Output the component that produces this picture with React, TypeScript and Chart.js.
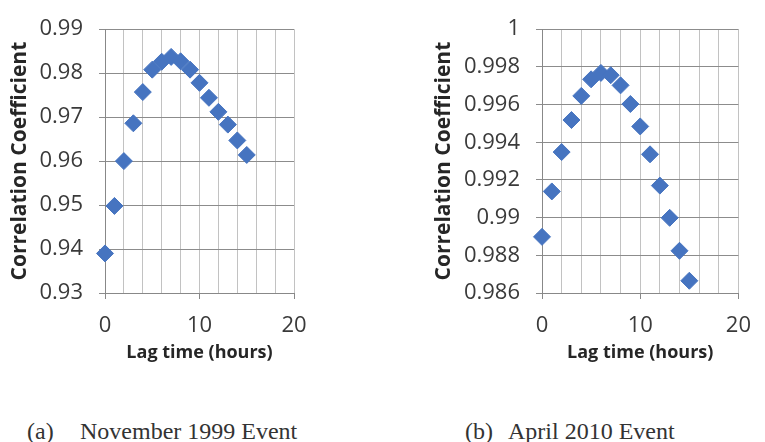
import React, { useEffect, useRef } from 'react';
import { Chart, registerables } from 'chart.js';

Chart.register(...registerables);

// ---- data ----
const lagHours = [0, 1, 2, 3, 4, 5, 6, 7, 8, 9, 10, 11, 12, 13, 14, 15];
const nov1999Corr = [0.939, 0.9498, 0.96, 0.9686, 0.9757, 0.9808, 0.9826, 0.9837, 0.9827, 0.9808, 0.9778, 0.9744, 0.9712, 0.9683, 0.9647, 0.9614];
const apr2010Corr = [0.98898, 0.99139, 0.99348, 0.99518, 0.99646, 0.99734, 0.99768, 0.99756, 0.99702, 0.99603, 0.99484, 0.99336, 0.9917, 0.98999, 0.98824, 0.98665];

const xRange = [0, 20];
const xStep = 2;
const xLabelEvery = 10;
const nov1999YRange = [0.93, 0.99];
const nov1999YStep = 0.01;
const apr2010YRange = [0.986, 1];
const apr2010YStep = 0.002;

const xTitle = 'Lag time (hours)';
const yTitle = 'Correlation Coefficient';
const captionA = ['(a)', 'November 1999 Event'];
const captionB = ['(b)', 'April 2010 Event'];

const MARKER = 'rgb(70,116,192)';
const TICK_COLOR = '#3a3a3a';
const TITLE_COLOR = '#262626';
const FONT = "'Open Sans', 'Noto Sans', sans-serif";

type PanelProps = {
  values: number[];
  yRange: number[];
  yStep: number;
  decimals: number;
  left: number;
  width: number;
  height: number;
  axisWidth: number;
  padTop: number;
  padRight: number;
  padBottom: number;
  yTitlePad: number;
};

function Panel(p: PanelProps) {
  const ref = useRef<HTMLCanvasElement | null>(null);
  useEffect(() => {
    if (!ref.current) return;
    const chart = new Chart(ref.current, {
      type: 'scatter',
      data: {
        datasets: [
          {
            data: lagHours.map((x, i) => ({ x, y: p.values[i] })),
            pointStyle: 'rectRot',
            pointRadius: 8.5,
            pointHoverRadius: 8.5,
            backgroundColor: MARKER,
            borderColor: MARKER,
            borderWidth: 1,
            showLine: false,
            clip: false,
          },
        ],
      },
      options: {
        animation: false,
        responsive: false,
        maintainAspectRatio: false,
        layout: { padding: { left: 0, top: p.padTop, right: p.padRight, bottom: p.padBottom } },
        plugins: { legend: { display: false }, tooltip: { enabled: false } },
        scales: {
          x: {
            type: 'linear',
            min: xRange[0],
            max: xRange[1],
            ticks: {
              stepSize: xStep,
              autoSkip: false,
              maxRotation: 0,
              padding: 14,
              color: TICK_COLOR,
              font: { family: FONT, size: 22 },
              callback: (v: any) => (Number(v) % xLabelEvery === 0 ? String(v) : ''),
            },
            grid: {
              color: (ctx: any) => (ctx.tick && ctx.tick.value === 0 ? '#888888' : '#c2c2c2'),
              lineWidth: 1,
              tickLength: 6,
              tickColor: (ctx: any) => (ctx.tick && ctx.tick.value % xLabelEvery === 0 ? '#888888' : 'rgba(0,0,0,0)'),
            },
            border: { color: '#888888' },
            title: {
              display: true,
              text: xTitle,
              color: TITLE_COLOR,
              font: { family: FONT, size: 18, weight: 'bold' },
              padding: { top: 0, bottom: 0 },
            },
            afterFit: (s: any) => {
              s.height = 71;
            },
          },
          y: {
            type: 'linear',
            min: p.yRange[0],
            max: p.yRange[1],
            ticks: {
              stepSize: p.yStep,
              padding: 16,
              color: TICK_COLOR,
              font: { family: FONT, size: 22 },
              callback: (v: any) => String(Number(Number(v).toFixed(p.decimals))),
            },
            grid: { color: '#8c8c8c', lineWidth: 1, tickLength: 6 },
            border: { color: '#888888' },
            title: {
              display: true,
              text: yTitle,
              color: TITLE_COLOR,
              font: { family: FONT, size: 21, weight: 'bold' },
              padding: { top: p.yTitlePad, bottom: 0 },
            },
            afterFit: (s: any) => {
              s.width = p.axisWidth;
            },
          },
        },
      },
    } as any);
    return () => chart.destroy();
  }, []);
  return (
    <canvas
      ref={ref}
      width={p.width}
      height={p.height}
      style={{ position: 'absolute', left: p.left, top: 0, width: p.width, height: p.height }}
    />
  );
}

const capStyle: React.CSSProperties = {
  position: 'absolute',
  top: 419,
  fontFamily: "'Liberation Serif', 'Times New Roman', serif",
  fontSize: 24,
  lineHeight: '24px',
  color: '#333333',
  whiteSpace: 'nowrap',
};

export default function App() {
  return (
    <div style={{ position: 'absolute', left: 0, top: 0, width: 765, height: 442, background: '#ffffff', overflow: 'hidden' }}>
      <Panel
        values={nov1999Corr}
        yRange={nov1999YRange}
        yStep={nov1999YStep}
        decimals={2}
        left={0}
        width={380}
        height={370}
        axisWidth={105}
        padTop={20}
        padRight={86}
        padBottom={6}
        yTitlePad={7}
      />
      <Panel
        values={apr2010Corr}
        yRange={apr2010YRange}
        yStep={apr2010YStep}
        decimals={3}
        left={400}
        width={365}
        height={370}
        axisWidth={142}
        padTop={19}
        padRight={15}
        padBottom={6}
        yTitlePad={31}
      />
      <span style={{ ...capStyle, left: 27 }}>{captionA[0]}</span>
      <span style={{ ...capStyle, left: 80 }}>{captionA[1]}</span>
      <span style={{ ...capStyle, left: 465 }}>{captionB[0]}</span>
      <span style={{ ...capStyle, left: 508 }}>{captionB[1]}</span>
    </div>
  );
}
